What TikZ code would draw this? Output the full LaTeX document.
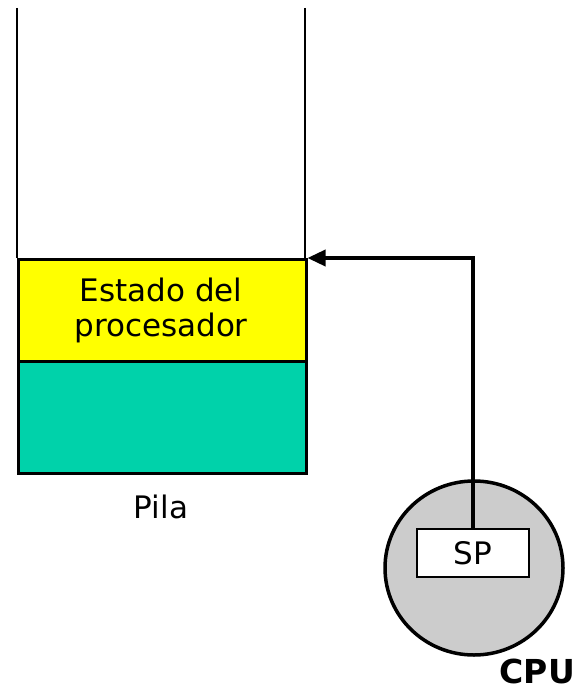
\documentclass[tikz,border=0pt]{standalone}
\usepackage{fontspec}
\setmainfont{DejaVu Sans}
\usetikzlibrary{arrows.meta,shapes.geometric}
\definecolor{stateyellow}{HTML}{FFFF00}
\definecolor{stackteal}{HTML}{00D2AA}
\definecolor{cpugray}{HTML}{CCCCCC}
\begin{document}
\begin{tikzpicture}[x=1pt,y=-1pt,
  txt/.style={font=\fontsize{31}{36}\selectfont, inner sep=0pt},
  boxstyle/.style={draw=black, line width=2.5pt, inner sep=0pt, minimum width=288pt},
  wire/.style={line width=3.5pt}]
\useasboundingbox (0,0) rectangle (578,690);
% stack walls
\coordinate (lt) at (17,8);
\coordinate (rt) at (305,8);
\coordinate (lb) at (17,258);
\coordinate (rb) at (305,258);
\draw[line width=2.5pt] (lt) -- (lb);
\draw[line width=2.5pt] (rt) -- (rb);
% boxes
\node[boxstyle, fill=stackteal, minimum height=112pt, anchor=north west] (teal) at (17,360) {};
\node[boxstyle, fill=stateyellow, minimum height=102pt, anchor=north west] (state) at (17,258) {};
\node[txt, align=center] (statetxt) at (161,310) {Estado del\\[-1pt]procesador};
\node[txt] (pila) at (161,507) {Pila};
% CPU
\node[ellipse, draw=black, line width=3.5pt, fill=cpugray, minimum width=178pt, minimum height=174pt, inner sep=0pt] (cpu) at (474,568) {};
\node[draw=black, line width=2.5pt, fill=white, minimum width=112pt, minimum height=48pt, inner sep=0pt, txt] (sp) at (473,553) {SP};
\node[font=\bfseries\fontsize{33}{36}\selectfont, inner sep=0pt, anchor=base east] (cputxt) at (575,683) {CPU};
% pointer
\coordinate (corner) at (sp.north |- state.north east);
\draw[wire, -{Triangle[length=18pt,width=16pt]}] (sp.north) -- (corner) -- (state.north east);
\end{tikzpicture}
\end{document}
